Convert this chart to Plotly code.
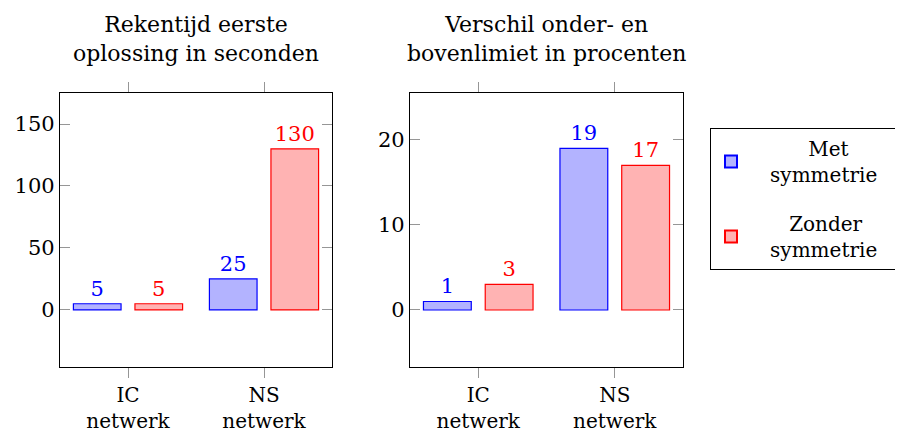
import plotly.graph_objects as go

categories = ["IC<br>netwerk", "NS<br>netwerk"]
tijd_met = [5, 25]
tijd_zonder = [5, 130]
verschil_met = [1, 19]
verschil_zonder = [3, 17]
series_names = ["&nbsp;&nbsp;&nbsp;&nbsp;&nbsp;&nbsp;&nbsp;&nbsp;&nbsp;Met<br>&nbsp;&nbsp;&nbsp;symmetrie&nbsp;&nbsp;&nbsp;",
                "&nbsp;&nbsp;&nbsp;&nbsp;&nbsp;&nbsp;Zonder<br>&nbsp;&nbsp;&nbsp;symmetrie&nbsp;&nbsp;&nbsp;"]
titles = ["Rekentijd eerste<br>oplossing in seconden",
          "Verschil onder- en<br>bovenlimiet in procenten"]
yticks_left = [0, 50, 100, 150]
yticks_right = [0, 10, 20]

FONT = "DejaVu Serif"
FS = 21
BLUE_FILL = "rgb(179,179,255)"
RED_FILL = "rgb(255,179,179)"

fig = go.Figure()

def add_bars(vals, color, fill, name, xa, ya, show):
    fig.add_trace(go.Bar(
        x=categories, y=vals, name=name, legendgroup=name, showlegend=show,
        marker=dict(color=fill, line=dict(color=color, width=1.2)),
        text=[str(v) for v in vals], textposition="outside",
        textfont=dict(color=color, size=FS, family=FONT),
        cliponaxis=False, xaxis=xa, yaxis=ya,
    ))

add_bars(tijd_met, "blue", BLUE_FILL, series_names[0], "x", "y", True)
add_bars(tijd_zonder, "red", RED_FILL, series_names[1], "x", "y", True)
add_bars(verschil_met, "blue", BLUE_FILL, series_names[0], "x2", "y2", False)
add_bars(verschil_zonder, "red", RED_FILL, series_names[1], "x2", "y2", False)

W, H = 903, 437
OFF = 8  # page body margin
def px(v):
    return (v - OFF) / W
def py(v):
    return 1 - (v - OFF) / H

xcommon = dict(range=[-0.5, 1.5], showline=True, linecolor="black", linewidth=1.2,
               mirror="allticks", ticks="outside", ticklen=10, tickcolor="rgb(150,150,150)",
               tickwidth=1, showgrid=False, zeroline=False,
               tickfont=dict(size=FS - 1, family=FONT))
ycommon = dict(showline=True, linecolor="black", linewidth=1.2, mirror="allticks",
               ticks="inside", ticklen=10, tickcolor="rgb(150,150,150)", tickwidth=1,
               showgrid=False, zeroline=False, tickfont=dict(size=FS, family=FONT))

fig.update_layout(
    width=W, height=H,
    margin=dict(l=0, r=0, t=0, b=0),
    paper_bgcolor="white", plot_bgcolor="white",
    font=dict(family=FONT, size=FS, color="black"),
    barmode="group", bargap=0.095, bargroupgap=0.226,
    xaxis=dict(domain=[px(60), px(332)], anchor="y", **xcommon),
    yaxis=dict(domain=[py(367), py(93)], anchor="x", range=[-46, 175], tickvals=yticks_left, **ycommon),
    xaxis2=dict(domain=[px(410), px(683)], anchor="y2", **xcommon),
    yaxis2=dict(domain=[py(367), py(93)], anchor="x2", range=[-6.7, 25.5], tickvals=yticks_right, **ycommon),
    legend=dict(x=px(710), y=py(128), xanchor="left", yanchor="top",
                bordercolor="black", borderwidth=1, bgcolor="white",
                font=dict(size=FS - 1, family=FONT), tracegroupgap=20, itemsizing="constant",
                entrywidth=198),
    annotations=[
        dict(text=titles[0], x=px((60 + 332) / 2), y=py(68), xref="paper", yref="paper",
             xanchor="center", yanchor="bottom", showarrow=False, font=dict(size=FS + 1, family=FONT)),
        dict(text=titles[1], x=px((410 + 683) / 2), y=py(68), xref="paper", yref="paper",
             xanchor="center", yanchor="bottom", showarrow=False, font=dict(size=FS + 1, family=FONT)),
    ],
)

fig.write_html("out.html")
